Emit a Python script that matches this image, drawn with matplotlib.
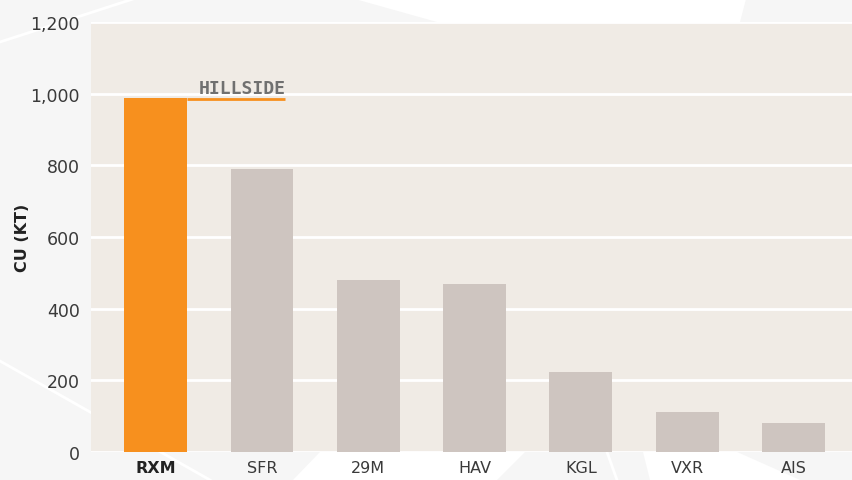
import matplotlib.pyplot as plt
from matplotlib.patches import Polygon
from matplotlib.lines import Line2D

# datos del grafico
minas = ['RXM', 'SFR', '29M', 'HAV', 'KGL', 'VXR', 'AIS']
cobre_kt = [988, 790, 480, 469, 223, 112, 81]
destacada = 'RXM'
etiqueta = 'HILLSIDE'

NARANJA = '#f7901e'
GRIS_BARRA = '#cec5c0'
FONDO_EJES = '#f0ebe5'
FONDO_FIG = '#f6f6f6'

W, H = 852, 481


def px(x, y):
    # pixeles (origen arriba a la izquierda) -> coordenadas de figura
    return (x / W, 1 - y / H)


fig = plt.figure(figsize=(W / 100, H / 100), dpi=100, facecolor=FONDO_FIG)

# formas decorativas del fondo
formas = [
    [(355, 0), (437, 23), (740, 23), (746, 0)],
    [(320, 453), (525, 453), (497, 481), (293, 481)],
    [(643, 453), (737, 453), (800, 481), (650, 481)],
]
for f in formas:
    fig.add_artist(Polygon([px(*p) for p in f], closed=True, transform=fig.transFigure,
                           facecolor='white', edgecolor='none', zorder=0))
for (x0, y0), (x1, y1) in [((0, 43), (133, 0)), ((0, 362), (210, 481)), ((607, 453), (617, 481))]:
    a, b = px(x0, y0), px(x1, y1)
    fig.add_artist(Line2D([a[0], b[0]], [a[1], b[1]], transform=fig.transFigure,
                          color='white', lw=2, zorder=0))

ax = fig.add_axes([91 / W, 1 - 453 / H, 1 - 91 / W, (453 - 23) / H])
ax.set_facecolor(FONDO_EJES)

ancho = 0.59
colores = [NARANJA if m == destacada else GRIS_BARRA for m in minas]
ax.bar(range(len(minas)), cobre_kt, width=ancho, color=colores, zorder=3)

ax.set_ylim(0, 1200)
ax.set_xlim(-0.607, len(minas) - 0.45)
ax.set_yticks(range(0, 1201, 200))
ax.set_yticklabels([f'{v:,}' for v in range(0, 1201, 200)])
ax.grid(True, axis='y', color='white', lw=2, zorder=1)
ax.set_axisbelow(True)
for s in ax.spines.values():
    s.set_visible(False)

ax.tick_params(axis='y', length=0, pad=8, labelsize=12.5, labelcolor='#3a3a3a')
ax.tick_params(axis='x', length=0, pad=6, labelsize=11.5, labelcolor='#3a3a3a')
ax.set_xticks(range(len(minas)))
ax.set_xticklabels(minas)
for t in ax.get_xticklabels():
    if t.get_text() == destacada:
        t.set_fontweight('bold')
        t.set_color('#222222')

ax.set_ylabel('CU (KT)', fontsize=11.5, fontweight='bold', color='#222222')
ax.yaxis.set_label_coords(-0.080, 0.5)

# linea y etiqueta de la mina destacada
i = minas.index(destacada)
v = cobre_kt[i]
x_fin = 1.22
ax.plot([i + ancho / 2, x_fin], [v - 3, v - 3], color=NARANJA, lw=2, zorder=4,
        solid_capstyle='butt')
ax.annotate(etiqueta, xy=(x_fin, v - 3), xytext=(0, 4.5), textcoords='offset points',
            ha='right', va='baseline', fontsize=13, fontweight='bold',
            family='DejaVu Sans Mono', color='#707070', zorder=5)

fig.savefig('out.png', dpi=100, facecolor=FONDO_FIG)
